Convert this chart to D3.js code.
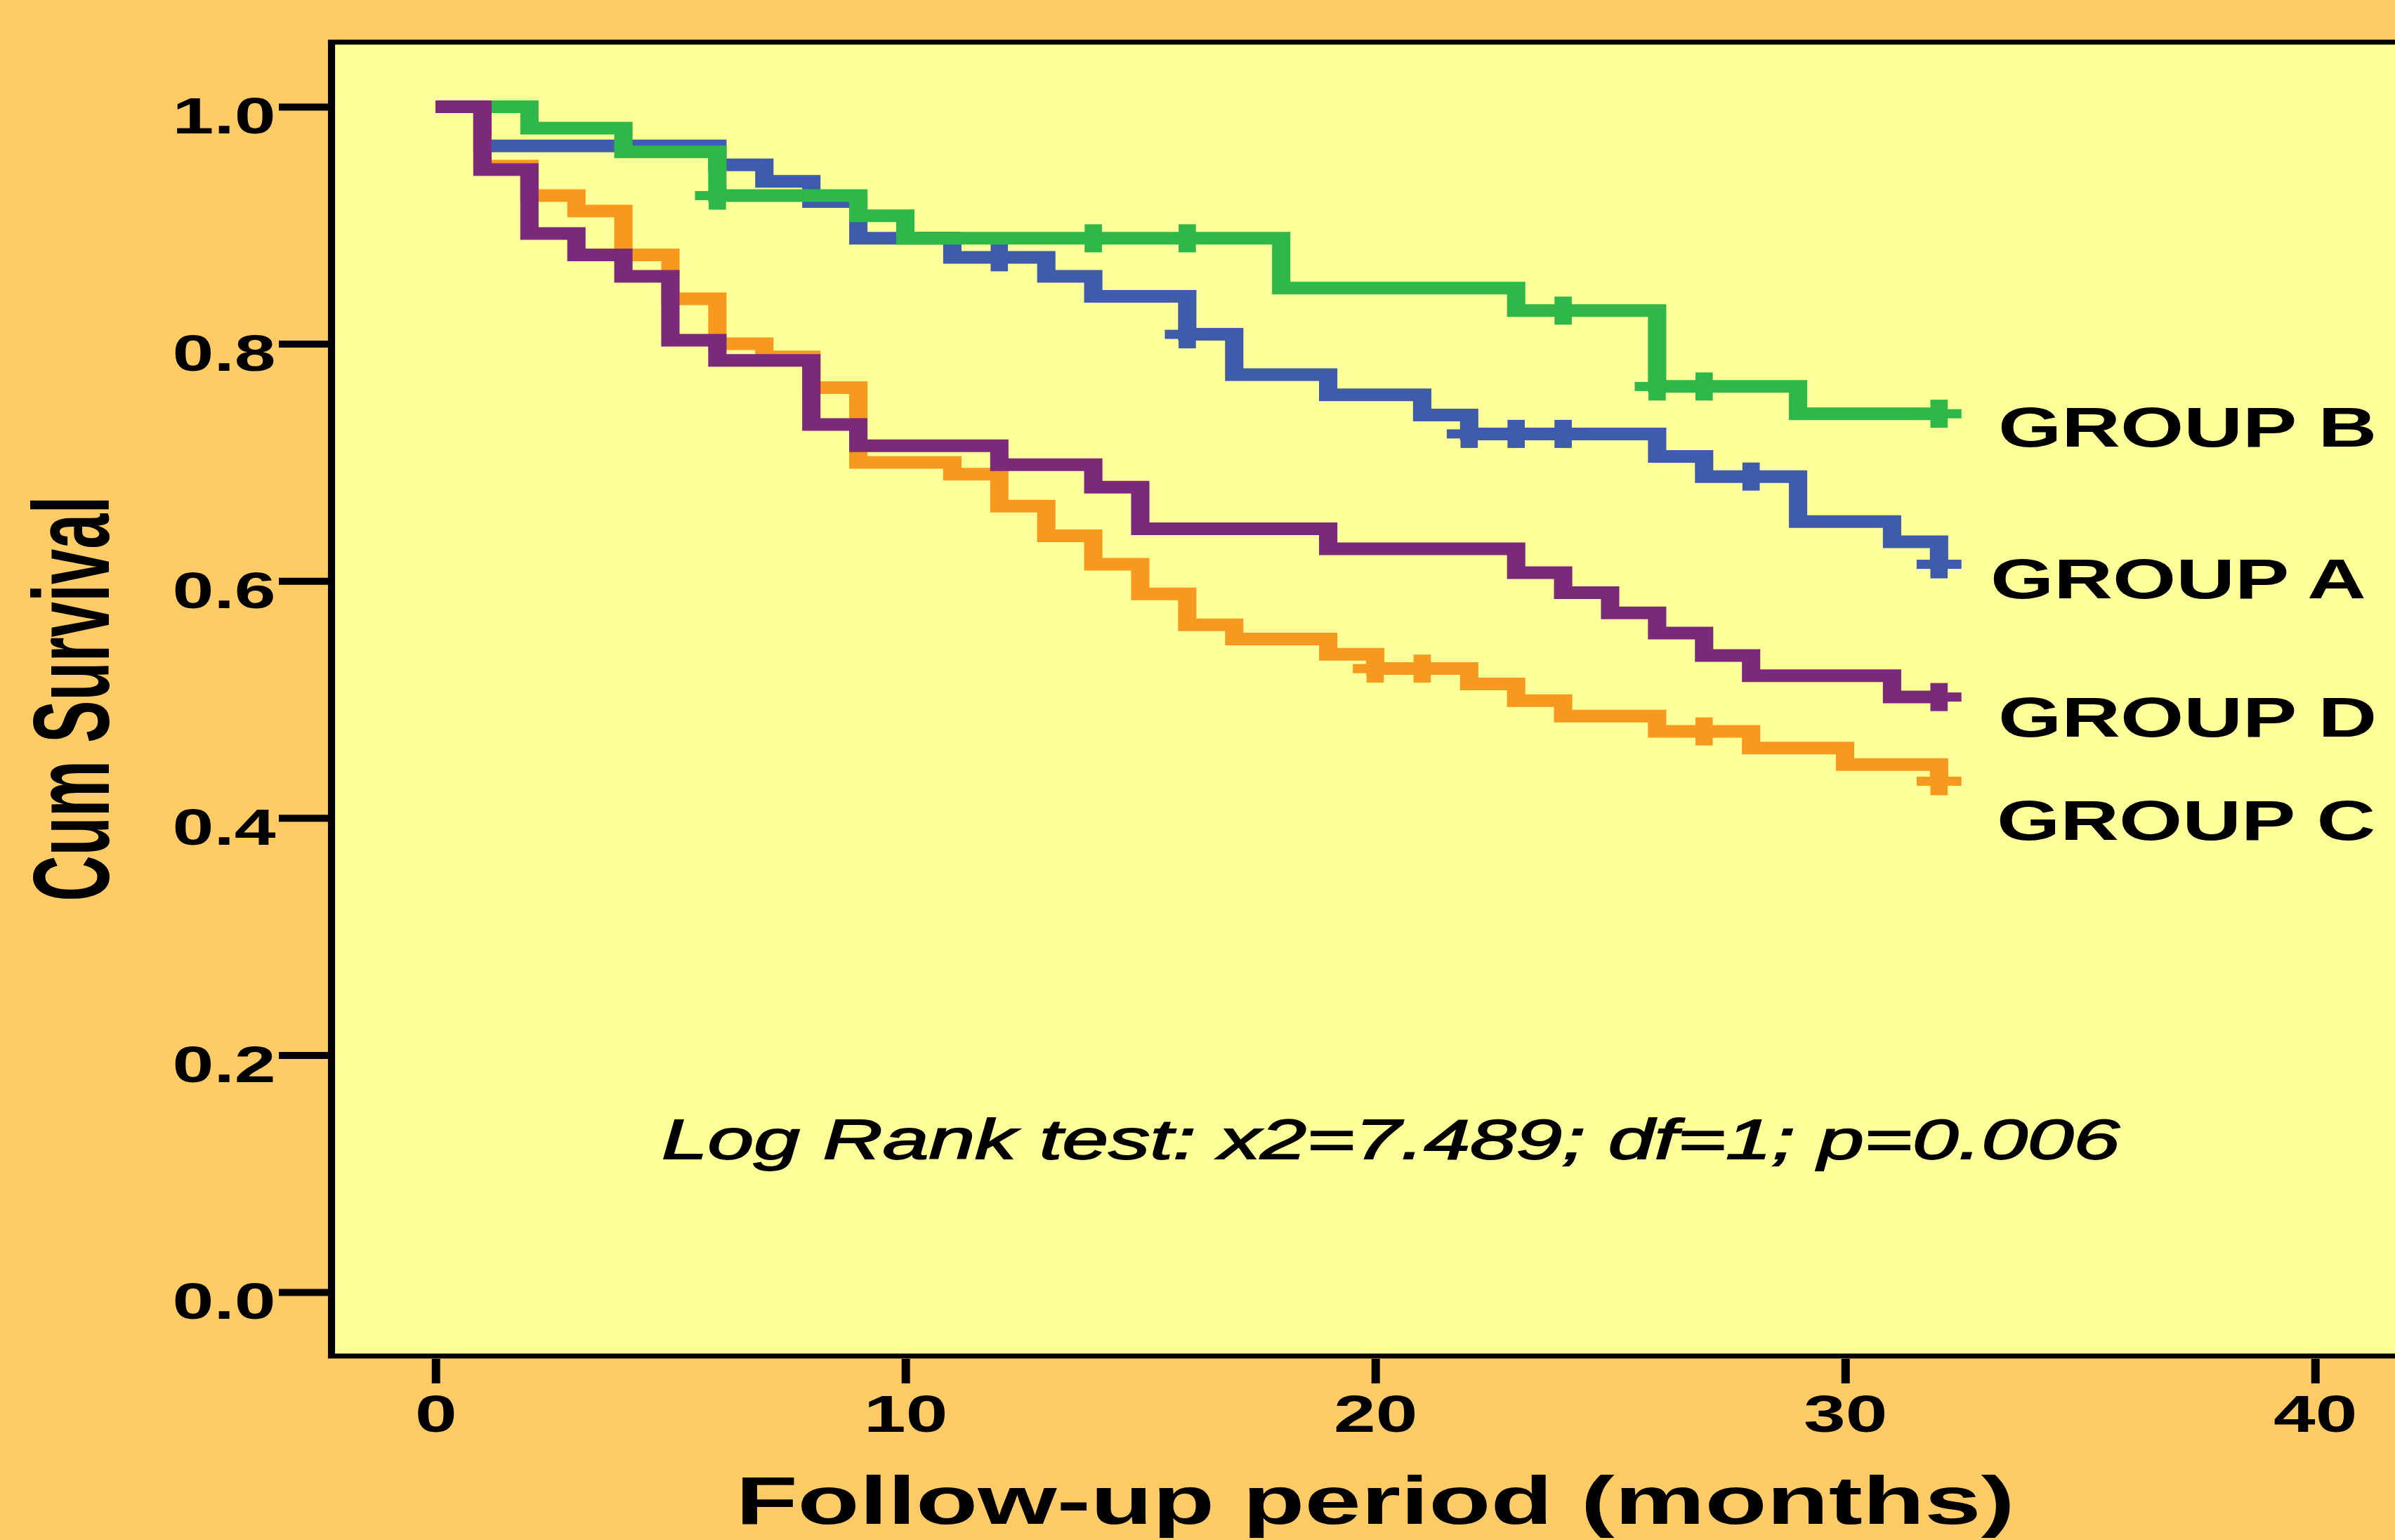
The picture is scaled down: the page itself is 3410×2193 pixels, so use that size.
<!DOCTYPE html>
<html>
<head>
<meta charset="utf-8">
<script src="https://cdn.jsdelivr.net/npm/d3@7"></script>
<style>
  html, body { margin: 0; padding: 0; background: #FFCB66; }
  svg { display: block; }
</style>
</head>
<body>
<div id="chart"></div>
<script>
// survival steps: time of each drop (months) and the level after it
var groupATimes  = [0, 1, 6, 7, 8, 9, 11, 13, 14, 16, 17, 19, 21, 22, 26, 27, 29, 31, 32];
var groupASurv   = [1.0, 0.967, 0.951, 0.937, 0.920, 0.889, 0.873, 0.857, 0.840, 0.808, 0.774, 0.757, 0.740, 0.724, 0.705, 0.688, 0.650, 0.633, 0.614];
var groupACensor = [12, 16, 22, 23, 24, 28, 32];

var groupBTimes  = [0, 2, 4, 6, 9, 10, 18, 23, 26, 29];
var groupBSurv   = [1.0, 0.982, 0.962, 0.925, 0.908, 0.889, 0.847, 0.828, 0.764, 0.741];
var groupBCensor = [6, 14, 16, 24, 26, 27, 32];

var groupCTimes  = [0, 1, 2, 3, 4, 5, 6, 7, 8, 9, 11, 12, 13, 14, 15, 16, 17, 19, 20, 22, 23, 24, 26, 28, 30, 32];
var groupCSurv   = [1.0, 0.950, 0.925, 0.912, 0.875, 0.838, 0.800, 0.789, 0.763, 0.700, 0.690, 0.663, 0.638, 0.614, 0.589, 0.563, 0.551, 0.538, 0.526, 0.513, 0.499, 0.486, 0.473, 0.459, 0.445, 0.431];
var groupCCensor = [20, 21, 27, 32];

var groupDTimes  = [0, 1, 2, 3, 4, 5, 6, 8, 9, 12, 14, 15, 19, 23, 24, 25, 26, 27, 28, 31];
var groupDSurv   = [1.0, 0.947, 0.893, 0.875, 0.857, 0.803, 0.786, 0.732, 0.714, 0.698, 0.679, 0.644, 0.627, 0.607, 0.590, 0.573, 0.556, 0.537, 0.520, 0.502];
var groupDCensor = [32];

var groupNames = ["GROUP A", "GROUP B", "GROUP C", "GROUP D"];
var xTicks     = [0, 10, 20, 30, 40];
var yTicks     = [0.0, 0.2, 0.4, 0.6, 0.8, 1.0];
var xTitle     = "Follow-up period (months)";
var yTitle     = "Cum Survival";
var statText   = "Log Rank test: x2=7.489; df=1; p=0.006";

width   = 3410;
height  = 2193;
stretch = 1.45;   // the original picture is stretched sideways, so draw in a squeezed space
font    = "'Liberation Sans', Arial, sans-serif";

// order matters: purple ends up on top
series = [
  { name: groupNames[0], times: groupATimes, surv: groupASurv, censor: groupACensor, color: "#3F5BAB", labelX: 2834, labelY: 852 },
  { name: groupNames[1], times: groupBTimes, surv: groupBSurv, censor: groupBCensor, color: "#2FB84A", labelX: 2845, labelY: 636 },
  { name: groupNames[2], times: groupCTimes, surv: groupCSurv, censor: groupCCensor, color: "#F7991F", labelX: 2843, labelY: 1196 },
  { name: groupNames[3], times: groupDTimes, surv: groupDSurv, censor: groupDCensor, color: "#7B297A", labelX: 2845, labelY: 1049 }
];

frameLeft   = 472 / stretch;
frameRight  = 3480 / stretch;
frameTop    = 60;
frameBottom = 1931;

x = d3.scaleLinear().domain([0, 40]).range([620 / stretch, 3296 / stretch]);
y = d3.scaleLinear().domain([0, 1]).range([1840, 152]);

svg = d3.select("#chart")
  .append("svg")
  .attr("width", width)
  .attr("height", height);

svg.append("rect")
  .attr("width", width)
  .attr("height", height)
  .style("fill", "#FFCB66");

g = svg.append("g").attr("transform", "scale(" + stretch + ",1)");

// plot panel
g.append("rect")
  .attr("x", frameLeft)
  .attr("y", frameTop)
  .attr("width", frameRight - frameLeft)
  .attr("height", frameBottom - frameTop)
  .style("fill", "#FFFF99")
  .style("stroke", "#000")
  .style("stroke-width", 7);

// y axis
yAxis = g.append("g")
  .attr("transform", "translate(" + (467 / stretch) + ",0)")
  .call(d3.axisLeft(y).tickValues(yTicks).tickFormat(d3.format(".1f")).tickSize(70 / stretch).tickPadding(3));
yAxis.select(".domain").remove();
yAxis.selectAll("line").style("stroke", "#000").style("stroke-width", 10);
yAxis.selectAll("text")
  .attr("dy", "0.52em")
  .style("fill", "#000")
  .style("font-family", font)
  .style("font-weight", "bold")
  .style("font-size", "73px");

// x axis
xAxis = g.append("g")
  .attr("transform", "translate(0,1935)")
  .call(d3.axisBottom(x).tickValues(xTicks).tickSize(35));
xAxis.select(".domain").remove();
xAxis.selectAll("line").style("stroke", "#000").style("stroke-width", 12 / stretch);
xAxis.selectAll("text")
  .attr("y", 104)
  .attr("dy", 0)
  .style("fill", "#000")
  .style("font-family", font)
  .style("font-weight", "bold")
  .style("font-size", "74px");

// axis titles
g.append("text")
  .attr("transform", "translate(107,995) rotate(-90)")
  .attr("text-anchor", "middle")
  .attr("textLength", 577)
  .attr("lengthAdjust", "spacingAndGlyphs")
  .style("font-family", "'Liberation Sans Narrow', " + font)
  .style("font-weight", "bold")
  .style("font-size", "106px")
  .text(yTitle);

g.append("text")
  .attr("x", x(20))
  .attr("y", 2170)
  .attr("text-anchor", "middle")
  .attr("textLength", 1256)
  .attr("lengthAdjust", "spacingAndGlyphs")
  .style("font-family", font)
  .style("font-weight", "bold")
  .style("font-size", "96px")
  .text(xTitle);

// test result (regular italic, slightly thickened)
g.append("text")
  .attr("x", 942 / stretch)
  .attr("y", 1650)
  .attr("textLength", 2076 / stretch)
  .attr("lengthAdjust", "spacingAndGlyphs")
  .style("font-family", font)
  .style("font-style", "italic")
  .style("font-size", "80px")
  .style("stroke", "#000")
  .style("stroke-width", 1.8)
  .text(statText);

function survAt(s, t) {
  var v = s.surv[0];
  s.times.forEach(function(tt, i) { if (tt <= t) v = s.surv[i]; });
  return v;
}

line = d3.line()
  .x(function(d) { return x(d[0]); })
  .y(function(d) { return y(d[1]); })
  .curve(d3.curveStepAfter);

series.forEach(function(s) {
  var pts = s.times.map(function(t, i) { return [t, s.surv[i]]; });
  var end = d3.max(s.censor);
  if (end > pts[pts.length - 1][0]) pts.push([end, s.surv[s.surv.length - 1]]);

  g.append("path")
    .datum(pts)
    .attr("d", line)
    .style("fill", "none")
    .style("stroke", s.color)
    .style("stroke-width", 18)
    .style("stroke-linejoin", "miter")
    .style("stroke-linecap", "butt");

  // censor marks: a small plus
  var marks = g.append("g").selectAll("g").data(s.censor).enter().append("g")
    .attr("transform", function(d) { return "translate(" + x(d) + "," + y(survAt(s, d)) + ")"; });
  marks.append("rect")
    .attr("x", -8.5).attr("y", -20).attr("width", 17).attr("height", 40)
    .style("fill", s.color);
  marks.append("rect")
    .attr("x", -22).attr("y", -6.5).attr("width", 44).attr("height", 13)
    .style("fill", s.color);

  g.append("text")
    .attr("x", s.labelX / stretch)
    .attr("y", s.labelY)
    .style("font-family", font)
    .style("font-weight", "bold")
    .style("font-size", "80px")
    .text(s.name);
});
</script>
</body>
</html>
